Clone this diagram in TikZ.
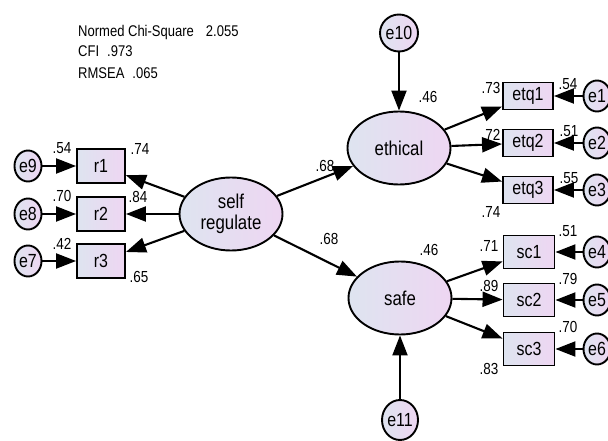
\documentclass[tikz,border=0pt]{standalone}
\usepackage{fontspec}
\setmainfont{Liberation Sans}[FakeStretch=0.84]
\usetikzlibrary{arrows.meta,shapes.geometric}

\definecolor{fillL}{RGB}{222,228,240}
\definecolor{fillR}{RGB}{238,214,242}

\tikzset{
  base/.style={draw=black, line width=1.9pt, left color=fillL, right color=fillR, inner sep=0pt},
  latent/.style={base, ellipse, minimum width=103pt, minimum height=73pt, font=\fontsize{20}{22}\selectfont, align=center},
  obsbox/.style={base, rectangle, font=\fontsize{19}{21}\selectfont},
  errnode/.style={base, ellipse, minimum width=27pt, minimum height=31pt, font=\fontsize{19}{21}\selectfont},
  errbig/.style={base, ellipse, minimum width=38pt, minimum height=37pt, font=\fontsize{19}{21}\selectfont},
  conn/.style={draw=black, line width=2.1pt, -{Triangle[length=20pt,width=15pt]}},
  coef/.style={font=\fontsize{16}{18}\selectfont, inner sep=0pt},
  fitidx/.style={font=\fontsize{15.5}{18}\selectfont, inner sep=0pt, anchor=base west}
}

\begin{document}
\begin{tikzpicture}[x=1pt,y=-1pt]
\useasboundingbox (0,0) rectangle (608,441);
\clip (0,0) rectangle (608,441);

% model fit indices
\node[fitidx] (chisq) at (78,37) {Normed Chi-Square\hspace{12pt}2.055};
\node[fitidx] (cfi)   at (78,57) {CFI\hspace{8pt}.973};
\node[fitidx] (rmsea) at (78,79) {RMSEA\hspace{8pt}.065};

% latent constructs
\node[latent] (sr)   at (231,214) {self\\[-1pt]regulate};
\node[latent] (eth)  at (399,148) {ethical};
\node[latent] (safe) at (400,298) {safe};

% disturbances
\node[errbig] (e10) at (399,33) {e10};
\node[errbig, minimum width=36pt, minimum height=40pt] (e11) at (400,420) {e11};

% indicators of self regulate
\node[obsbox, minimum width=48pt, minimum height=34pt] (r1) at (101,166) {r1};
\node[obsbox, minimum width=48pt, minimum height=34pt] (r2) at (101,214) {r2};
\node[obsbox, minimum width=48pt, minimum height=34pt] (r3) at (101,261) {r3};
\node[errnode] (e9) at (28,166) {e9};
\node[errnode] (e8) at (28,214) {e8};
\node[errnode] (e7) at (28,261) {e7};

% indicators of ethical
\node[obsbox, minimum width=50pt, minimum height=27pt] (etq1) at (528,96)  {etq1};
\node[obsbox, minimum width=50pt, minimum height=27pt] (etq2) at (528,143) {etq2};
\node[obsbox, minimum width=50pt, minimum height=27pt] (etq3) at (528,190) {etq3};
\node[errnode] (e1) at (597,96)  {e1};
\node[errnode] (e2) at (597,143) {e2};
\node[errnode] (e3) at (597,190) {e3};

% indicators of safe
\node[obsbox, minimum width=51pt, minimum height=33pt] (sc1) at (529,252) {sc1};
\node[obsbox, minimum width=51pt, minimum height=33pt] (sc2) at (529,300) {sc2};
\node[obsbox, minimum width=51pt, minimum height=33pt] (sc3) at (529,349) {sc3};
\node[errnode] (e4) at (597,252) {e4};
\node[errnode] (e5) at (597,300) {e5};
\node[errnode] (e6) at (597,349) {e6};

% structural paths
\draw[conn] (sr) -- (eth);
\draw[conn] (sr) -- (safe);
\draw[conn] (e10) -- (eth);
\draw[conn] (e11) -- (safe);

% measurement paths
\foreach \r in {r1,r2,r3} \draw[conn] (sr) -- (\r);
\draw[conn] (e9) -- (r1);
\draw[conn] (e8) -- (r2);
\draw[conn] (e7) -- (r3);
\foreach \q in {etq1,etq2,etq3} \draw[conn] (eth) -- (\q);
\foreach \q in {sc1,sc2,sc3} \draw[conn] (safe) -- (\q);
\draw[conn] (e1) -- (etq1);
\draw[conn] (e2) -- (etq2);
\draw[conn] (e3) -- (etq3);
\draw[conn] (e4) -- (sc1);
\draw[conn] (e5) -- (sc2);
\draw[conn] (e6) -- (sc3);

% squared multiple correlations and loadings
\node[coef] (c54a) at (62,148) {.54};
\node[coef] (c70a) at (62,196) {.70};
\node[coef] (c42)  at (62,244) {.42};
\node[coef] (c74a) at (140,149) {.74};
\node[coef] (c84)  at (138,197) {.84};
\node[coef] (c65)  at (139,277) {.65};
\node[coef] (c68a) at (325,166) {.68};
\node[coef] (c68b) at (329,239) {.68};
\node[coef] (c46a) at (428,97)  {.46};
\node[coef] (c46b) at (429,250) {.46};
\node[coef] (c73)  at (491,88)  {.73};
\node[coef] (c72)  at (491,135) {.72};
\node[coef] (c74b) at (491,212) {.74};
\node[coef] (c54b) at (568,84)  {.54};
\node[coef] (c51a) at (569,131) {.51};
\node[coef] (c55)  at (569,178) {.55};
\node[coef] (c71)  at (489,246) {.71};
\node[coef] (c89)  at (489,286) {.89};
\node[coef] (c83)  at (489,369) {.83};
\node[coef] (c51b) at (568,231) {.51};
\node[coef] (c79)  at (568,279) {.79};
\node[coef] (c70b) at (568,327) {.70};
\end{tikzpicture}
\end{document}
